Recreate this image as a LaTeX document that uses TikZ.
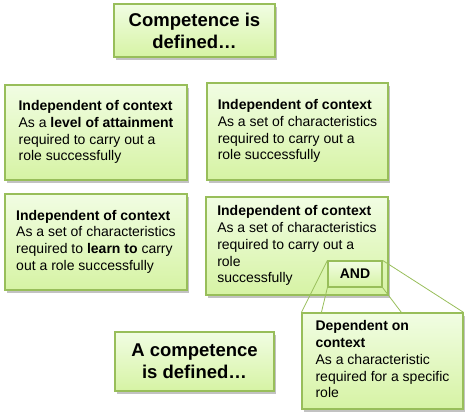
\documentclass[tikz,border=0pt]{standalone}
\usepackage{fontspec}
\setmainfont{Liberation Sans}
\usetikzlibrary{shadows}
\definecolor{boxtop}{HTML}{F1FDE3}
\definecolor{boxbot}{HTML}{D6F3A4}
\definecolor{boxline}{HTML}{98BE5A}
\newcommand{\bodysize}{\fontsize{14}{16.7}\selectfont}
\newcommand{\headsize}{\fontsize{18.5}{22}\selectfont}
% left-aligned block of lines, centred in its card
\newcommand{\cardlines}[1]{\begin{tabular}{@{}l@{}}#1\end{tabular}}
\begin{document}
\begin{tikzpicture}[
  x=1pt, y=-1pt,
  card/.style={draw=boxline, line width=1.2pt, top color=boxtop, bottom color=boxbot,
    drop shadow={shadow xshift=2pt, shadow yshift=-2.5pt, fill=black!40, opacity=0.6},
    font=\bodysize, inner sep=0pt},
  headcard/.style={card, align=center, font=\headsize\bfseries},
  zoomline/.style={draw=boxline, line width=0.8pt}
]
\useasboundingbox (0,0) rectangle (468,418);

% headings
\node[headcard, minimum width=161pt, minimum height=53pt] (def) at (194.5,30.5)
  {Competence is\\defined\ldots};
\node[headcard, minimum width=159pt, minimum height=59pt] (adef) at (194.5,361.5)
  {A competence\\is defined\ldots};

% the four context-free views
\node[card, minimum width=182pt, minimum height=95pt] (attain) at (96,132.5)
  {\cardlines{\textbf{Independent of context}\\As a \textbf{level of attainment}\\required to carry out a\\role successfully}};
\node[card, minimum width=181pt, minimum height=97pt] (charset) at (297.5,131.5)
  {\cardlines{\textbf{Independent of context}\\As a set of characteristics\\required to carry out a\\role successfully}};
\node[card, minimum width=182pt, minimum height=96pt] (learn) at (96,242)
  {\cardlines{\textbf{Independent of context}\\As a set of characteristics\\required to \textbf{learn to} carry\\out a role successfully}};
\node[card, minimum width=182pt, minimum height=98pt] (role) at (297,246)
  {\cardlines{\textbf{Independent of context}\\As a set of characteristics\\required to carry out a\\role\\successfully}};

% context-dependent part
\node[card, minimum width=161pt, minimum height=96pt] (dep) at (382.5,361)
  {\cardlines{\textbf{Dependent on}\\\textbf{context}\\As a characteristic\\required for a specific\\role}};
\coordinate (depl) at ([xshift=20pt]dep.north west);
\coordinate (depr) at ([xshift=100pt]dep.north west);

\node[draw=boxline, line width=1.2pt, top color=boxtop, bottom color=boxbot,
  font=\bodysize\bfseries, minimum width=54pt, minimum height=26pt, inner sep=0pt]
  (and) at (355,274) {AND};
\draw[zoomline] (and.north west) -- (dep.north west);
\draw[zoomline] (and.south west) -- (depl);
\draw[zoomline] (and.south east) -- (depr);
\draw[zoomline] (and.north east) -- (dep.north east);

\end{tikzpicture}
\end{document}
